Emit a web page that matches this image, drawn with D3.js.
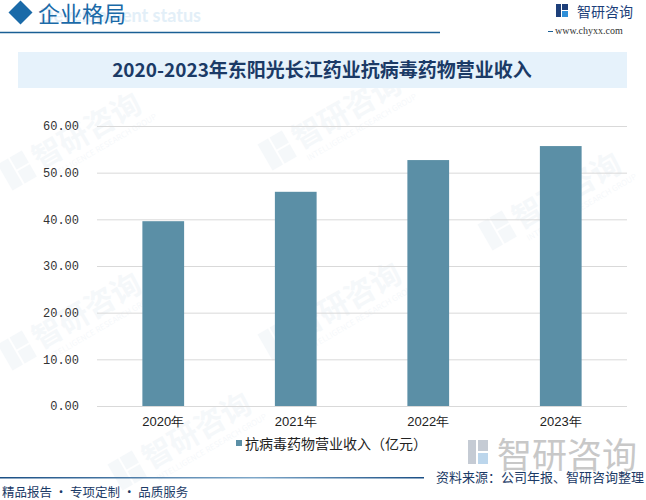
<!DOCTYPE html>
<html>
<head>
<meta charset="utf-8">
<script src="https://cdn.jsdelivr.net/npm/d3@7"></script>
<style>
  body { margin: 0; background: #fff; }
  svg { display: block; font-family: "Noto Sans CJK SC", sans-serif; }
</style>
</head>
<body>
<svg id="chart" width="646" height="500"></svg>
<script>
// data
var years = ['2020年', '2021年', '2022年', '2023年'];
var revenue = [39.6, 45.9, 52.7, 55.7];
var yTicks = [0, 10, 20, 30, 40, 50, 60];
var seriesName = '抗病毒药物营业收入（亿元）';

var svg = d3.select('#chart');

// faint watermarks behind everything
var marks = [[40, 170], [300, 150], [40, 350], [300, 340], [520, 230], [150, 470]];
marks.forEach(function(m){
  var g = svg.append('g')
    .attr('transform', 'translate(' + m[0] + ',' + m[1] + ') rotate(-30)')
    .attr('opacity', 0.045);
  g.append('rect').attr('x', -34).attr('y', -26).attr('width', 12).attr('height', 30).style('fill', '#2a6aa0');
  g.append('rect').attr('x', -20).attr('y', -26).attr('width', 14).attr('height', 14).style('fill', '#2a6aa0');
  g.append('rect').attr('x', -20).attr('y', -10).attr('width', 14).attr('height', 14).style('fill', '#2a6aa0');
  g.append('text').attr('x', 0).attr('y', 0)
    .style('font-size', '30px').style('font-weight', 'bold').style('fill', '#2a6aa0')
    .text('智研咨询');
  g.append('text').attr('x', 2).attr('y', 14)
    .style('font-size', '8px').style('fill', '#2a6aa0')
    .text('INTELLIGENCE RESEARCH GROUP');
});

// header
svg.append('text')
  .attr('x', 40).attr('y', 22)
  .style('font-size', '18px').style('font-weight', 'bold')
  .style('fill', '#e3eff8')
  .style('font-family', 'Lato, sans-serif')
  .text('Development status');
svg.append('rect')
  .attr('x', 12).attr('y', 4).attr('width', 17).attr('height', 17)
  .attr('transform', 'rotate(45 20.5 12.5)')
  .style('fill', '#1a6aa8');
svg.append('text')
  .attr('x', 38).attr('y', 22)
  .style('font-size', '22px')
  .style('fill', '#1a6aa8')
  .text('企业格局');
svg.append('line')
  .attr('x1', 0).attr('x2', 440).attr('y1', 32.5).attr('y2', 32.5)
  .style('stroke', '#1a5f95').style('stroke-width', 1.5);
svg.append('line')
  .attr('x1', 548).attr('x2', 553).attr('y1', 31.5).attr('y2', 31.5)
  .style('stroke', '#1a5f95').style('stroke-width', 1);

// logo top-right
var logo = svg.append('g').attr('transform', 'translate(556,4)');
logo.append('rect').attr('x', 0).attr('y', 0).attr('width', 5).attr('height', 13).style('fill', '#1d3f7a');
logo.append('rect').attr('x', 6).attr('y', 0).attr('width', 6).attr('height', 6).style('fill', '#1d3f7a');
logo.append('rect').attr('x', 6).attr('y', 7).attr('width', 6).attr('height', 6).style('fill', '#2f8fd8');
svg.append('text')
  .attr('x', 577).attr('y', 17)
  .style('font-size', '14px').style('fill', '#1d3f7a')
  .text('智研咨询');
svg.append('text')
  .attr('x', 555).attr('y', 34)
  .style('font-size', '10px').style('fill', '#333')
  .style('font-family', '"Liberation Serif", serif')
  .text('www.chyxx.com');

// title band
svg.append('rect')
  .attr('x', 18).attr('y', 52).attr('width', 609).attr('height', 36)
  .style('fill', '#e6f2fb');
svg.append('text')
  .attr('x', 322).attr('y', 77)
  .attr('text-anchor', 'middle')
  .style('font-size', '19px').style('font-weight', 'bold')
  .style('fill', '#1b3a66')
  .text('2020-2023年东阳光长江药业抗病毒药物营业收入');

// scales
var x = d3.scaleBand().domain(years).range([97, 627]).paddingInner(0.685).paddingOuter(0.3425);
var y = d3.scaleLinear().domain([0, 60]).range([406, 126]);

// grid + y labels
var yAxis = d3.axisLeft(y).tickValues(yTicks)
  .tickSize(-(627 - 97))
  .tickFormat(function(d){ return d.toFixed(2); });
var yg = svg.append('g')
  .attr('transform', 'translate(97,0)')
  .call(yAxis);
yg.select('.domain').remove();
yg.selectAll('.tick line').style('stroke', '#d9d9d9');
yg.selectAll('.tick text')
  .attr('x', -18)
  .style('font-size', '12px')
  .style('font-family', '"Liberation Mono", monospace')
  .style('fill', '#333');

// bars
svg.selectAll('.bar')
  .data(revenue)
  .enter().append('rect')
  .attr('class', 'bar')
  .attr('x', function(d, i){ return x(years[i]); })
  .attr('width', x.bandwidth())
  .attr('y', function(d){ return y(d); })
  .attr('height', function(d){ return y(0) - y(d); })
  .style('fill', '#5b8fa6');

// x labels
var xAxis = d3.axisBottom(x).tickSize(0).tickPadding(11);
var xg = svg.append('g')
  .attr('transform', 'translate(0,406)')
  .call(xAxis);
xg.select('.domain').remove();
xg.selectAll('.tick text')
  .style('font-size', '13px')
  .style('fill', '#222');

// legend
svg.append('rect')
  .attr('x', 236).attr('y', 440).attr('width', 6).attr('height', 6)
  .style('fill', '#5b8fa6');
svg.append('text')
  .attr('x', 245).attr('y', 449)
  .style('font-size', '14px').style('fill', '#222')
  .text(seriesName);

// bottom-right watermark logo
var wm = svg.append('g').attr('transform', 'translate(468,440)');
wm.append('rect').attr('x', 0).attr('y', 0).attr('width', 8).attr('height', 24).style('fill', '#c5cbd4');
wm.append('rect').attr('x', 10).attr('y', 0).attr('width', 10).attr('height', 11).style('fill', '#c5cbd4');
wm.append('rect').attr('x', 10).attr('y', 13).attr('width', 10).attr('height', 11).style('fill', '#bcd6ec');
svg.append('text')
  .attr('x', 497).attr('y', 468)
  .style('font-size', '35px').style('fill', '#c8c8c8')
  .text('智研咨询');

// footer
var grad = svg.append('defs').append('linearGradient').attr('id', 'footLine');
grad.append('stop').attr('offset', '0%').attr('stop-color', '#1a4f85');
grad.append('stop').attr('offset', '60%').attr('stop-color', '#7fa8c9');
grad.append('stop').attr('offset', '100%').attr('stop-color', '#1a4f85');
svg.append('rect')
  .attr('x', 0).attr('y', 477).attr('width', 424).attr('height', 1.5)
  .style('fill', 'url(#footLine)');
svg.append('text')
  .attr('x', 644).attr('y', 482)
  .attr('text-anchor', 'end')
  .style('font-size', '13px').style('fill', '#1b3a66')
  .text('资料来源：公司年报、智研咨询整理');
svg.append('text')
  .attr('x', 2).attr('y', 497)
  .style('font-size', '12.5px').style('fill', '#1b3a66')
  .text('精品报告 · 专项定制 · 品质服务');
</script>
</body>
</html>
